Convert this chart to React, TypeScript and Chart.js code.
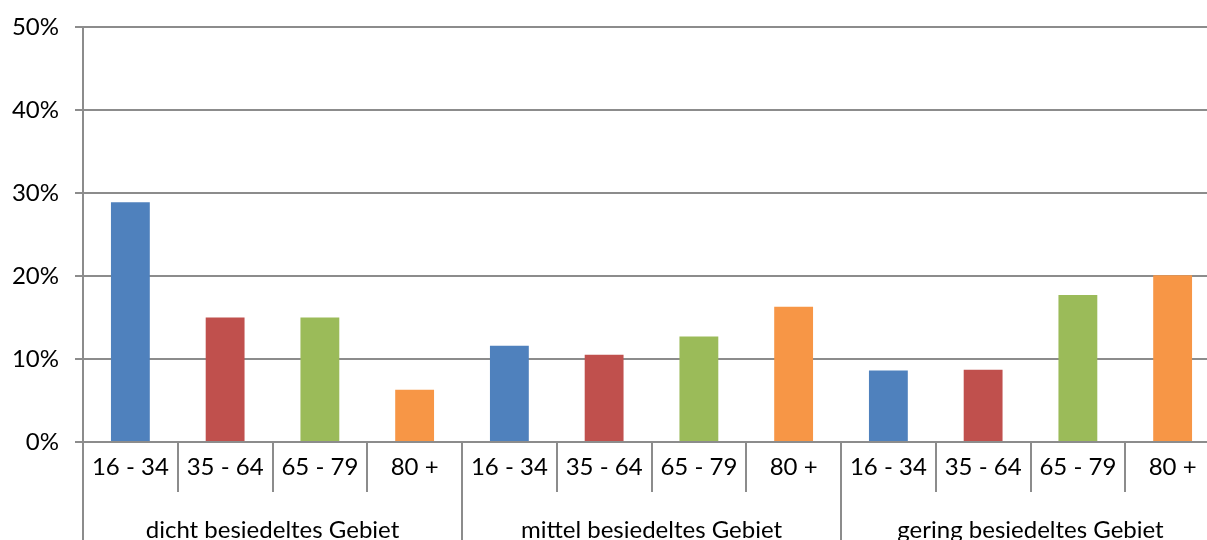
import React, { useEffect, useRef } from "react";
import { Chart, registerables } from "chart.js";

Chart.register(...registerables);

const ageLabels = ["16 - 34", "35 - 64", "65 - 79", "80 +", "16 - 34", "35 - 64", "65 - 79", "80 +", "16 - 34", "35 - 64", "65 - 79", "80 +"];
const groupLabels = ["dicht besiedeltes Gebiet", "mittel besiedeltes Gebiet", "gering besiedeltes Gebiet"];
const values = [28.9, 15.0, 15.0, 6.3, 11.6, 10.5, 12.7, 16.3, 8.6, 8.7, 17.7, 20.1];
const ageColors = ["#4F81BD", "#C0504D", "#9BBB59", "#F79646"];
const yTicks = [0, 10, 20, 30, 40, 50];

const FONT = "Lato";
const GRID = "#8c8c8c";

export default function App() {
  const ref = useRef<HTMLCanvasElement | null>(null);
  useEffect(() => {
    document.body.style.margin = "0";
    document.body.style.overflow = "hidden";
    const ctx = ref.current!;
    const chart = new Chart(ctx, {
      type: "bar",
      data: {
        labels: ageLabels,
        datasets: [
          {
            data: values,
            backgroundColor: values.map((_, i) => ageColors[i % 4]),
            barPercentage: 0.41,
            categoryPercentage: 1,
            xAxisID: "x",
          },
        ],
      },
      options: {
        animation: false,
        responsive: false,
        maintainAspectRatio: false,
        layout: { padding: { top: 27, right: 0, left: 0, bottom: 0 } },
        plugins: { legend: { display: false }, tooltip: { enabled: false } },
        scales: {
          y: {
            min: yTicks[0],
            max: yTicks[yTicks.length - 1],
            afterBuildTicks: (s: any) => {
              s.ticks = yTicks.map((v) => ({ value: v }));
            },
            afterFit: (s: any) => {
              s.width = 83;
              s.paddingTop = 0;
              s.paddingBottom = 0;
            },
            ticks: {
              callback: (v: any) => v + "%",
              font: { family: FONT, size: 24 },
              color: "#000",
              padding: 16,
            },
            grid: { color: GRID, lineWidth: 2, tickLength: 8 },
            border: { color: GRID, width: 2 },
          },
          x: {
            type: "category",
            position: "bottom",
            offset: true,
            afterFit: (s: any) => {
              s.height = 50;
            },
            ticks: {
              font: { family: FONT, size: 24 },
              color: "#000",
              padding: -39,
              maxRotation: 0,
              autoSkip: false,
            },
            grid: { drawOnChartArea: false, offset: true, tickLength: 50, color: GRID, lineWidth: 2 },
            border: { color: GRID, width: 2 },
          },
          x2: {
            type: "category",
            position: "bottom",
            labels: groupLabels,
            offset: true,
            afterFit: (s: any) => {
              s.height = 71;
            },
            ticks: {
              font: { family: FONT, size: 24 },
              color: "#000",
              padding: -56,
              maxRotation: 0,
              autoSkip: false,
            },
            grid: { drawOnChartArea: false, offset: true, tickLength: 80, color: GRID, lineWidth: 2 },
            border: { display: false },
          },
        },
      },
    });
    return () => chart.destroy();
  }, []);
  return (
    <div style={{ position: "fixed", left: 0, top: 0, width: 1220, height: 563 }}>
      <canvas ref={ref} width={1220} height={563} style={{ width: 1220, height: 563 }} />
    </div>
  );
}
